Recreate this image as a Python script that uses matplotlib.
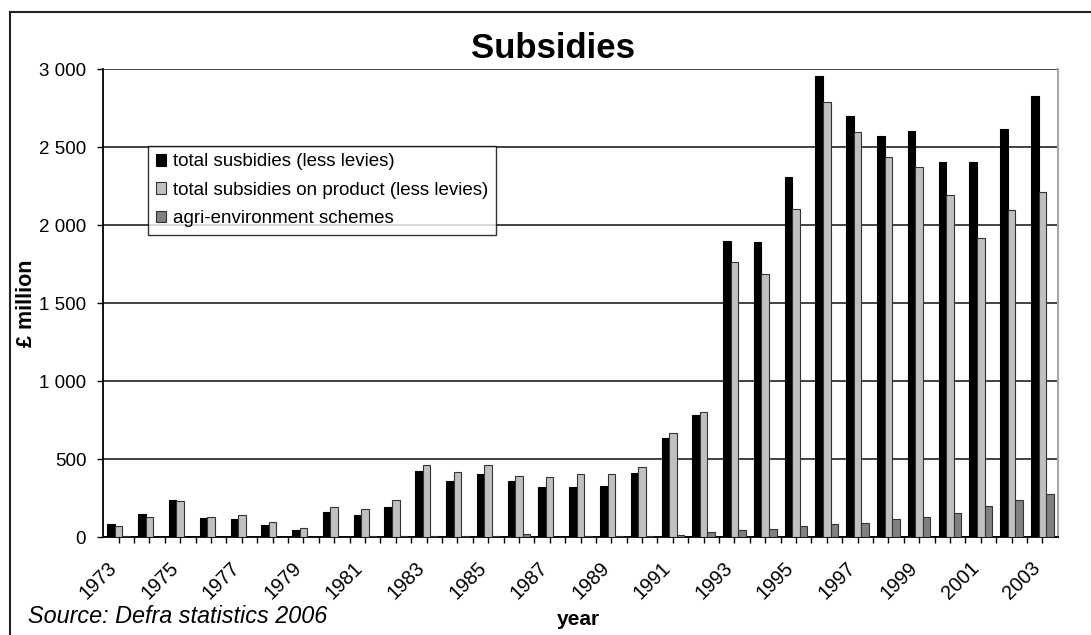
import matplotlib
matplotlib.use("Agg")
import matplotlib.pyplot as plt
import matplotlib.ticker as mticker
import matplotlib.transforms as mtransforms
from matplotlib.lines import Line2D
from matplotlib.patches import Patch
import numpy as np

plt.rcParams['font.family'] = ['Liberation Sans', 'DejaVu Sans']

# UK subsidies, £ million
years = list(range(1973, 2004))
total_subsidies = [86, 148, 240, 125, 118, 77, 48, 163, 140, 193,
                   420, 358, 401, 358, 318, 318, 326, 412, 635, 785,
                   1898, 1889, 2307, 2957, 2700, 2570, 2602, 2407, 2407, 2617,
                   2825]
product_subsidies = [69, 131, 232, 131, 138, 99, 60, 193, 180, 240,
                     463, 418, 463, 392, 386, 401, 401, 448, 665, 802,
                     1765, 1688, 2105, 2786, 2593, 2437, 2375, 2191, 1919, 2097,
                     2212]
agri_environment = [9, 0, 0, 0, 0, 0, 0, 0, 9, 9,
                    9, 9, 9, 22, 0, 9, 9, 9, 15, 30,
                    45, 54, 69, 86, 92, 116, 131, 154, 201, 238,
                    276]
series_labels = ['total susbidies (less levies)',
                 'total subsidies on product (less levies)',
                 'agri-environment schemes']
series_colors = ['#000000', '#c0c0c0', '#808080']

W, H = 1091, 635
fig = plt.figure(figsize=(W / 100, H / 100), dpi=100)
ax = fig.add_axes([103.3 / W, 1 - 537 / H, (1057.7 - 103.3) / W, (537 - 69) / H])

x = np.arange(len(years))
bw = 0.245
for k, (vals, col) in enumerate(zip([total_subsidies, product_subsidies, agri_environment],
                                    series_colors)):
    edge = '#000000' if k == 0 else '#333333'
    ax.bar(x + (k - 1) * bw, vals, width=bw, color=col, edgecolor=edge,
           linewidth=0.8, zorder=3)

ax.set_xlim(-0.5, len(years) - 0.5)
ax.set_ylim(0, 3000)
ax.set_yticks(np.arange(0, 3001, 500))
ax.yaxis.set_major_formatter(mticker.FuncFormatter(
    lambda v, p: f'{int(v):,}'.replace(',', ' ')))
ax.grid(axis='y', color='#333333', linewidth=1.3, zorder=1)

ax.set_xticks(x)
ax.set_xticklabels([str(y) if i % 2 == 0 else '' for i, y in enumerate(years)],
                   rotation=45, ha='right', va='center', rotation_mode='anchor')
ax.set_xticks(x[:-1] + 0.5, minor=True)

ax.tick_params(axis='y', length=4.3, width=1, pad=8, labelsize=13.5, color='black')
ax.tick_params(axis='x', which='both', length=4.3, width=1, color='black')
ax.tick_params(axis='x', which='major', pad=16, labelsize=14.2)

# nudge the slanted year labels a little to the left
shift = mtransforms.ScaledTranslation(-5 / 100, 0, fig.dpi_scale_trans)
for lab in ax.get_xticklabels():
    lab.set_transform(lab.get_transform() + shift)

ax.spines['top'].set_visible(False)
ax.spines['left'].set_linewidth(1.3)
ax.spines['bottom'].set_linewidth(1.3)
ax.spines['right'].set_color('#a8a8a8')
ax.spines['right'].set_linewidth(1.5)

handles = [Patch(facecolor=c, edgecolor='#333333' if i else '#000000', linewidth=0.8)
           for i, c in enumerate(series_colors)]
leg = ax.legend(handles, series_labels, loc='upper left',
                bbox_to_anchor=((148 - 103.3) / 954.4, (537 - 146) / 468),
                borderaxespad=0, fontsize=13.5, frameon=True, fancybox=False,
                edgecolor='black', handlelength=0.55, handleheight=0.55,
                handletextpad=0.4, labelspacing=0.6, borderpad=0.4)
leg.get_frame().set_linewidth(1.0)
leg.set_zorder(5)

# chart title, axis titles and source note
fig.text(552.5 / W, 1 - 58 / H, 'Subsidies', fontsize=25, fontweight='bold',
         ha='center', va='baseline')
fig.text(27 / W, 1 - 303 / H, '£ million', fontsize=15.5, fontweight='bold',
         rotation=90, ha='center', va='center')
fig.text(578 / W, 1 - 625 / H, 'year', fontsize=15, fontweight='bold',
         ha='center', va='baseline')
fig.text(28 / W, 1 - 623 / H, 'Source: Defra statistics 2006', fontsize=16.8,
         style='italic', ha='left', va='baseline')

# chart area border
fig.add_artist(Line2D([10 / W, 1], [1 - 12 / H, 1 - 12 / H], color='#222222', linewidth=1.5))
fig.add_artist(Line2D([10 / W, 10 / W], [0, 1 - 12 / H], color='#222222', linewidth=1.5))

fig.savefig('out.png', dpi=100)
